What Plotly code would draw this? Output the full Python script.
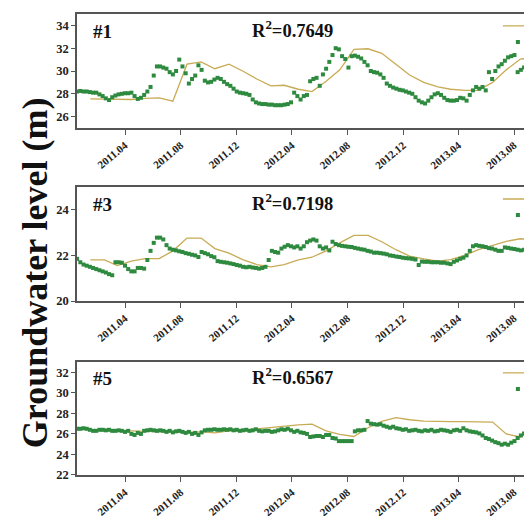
import pandas as pd
import plotly.graph_objects as go

# ---- data -------------------------------------------------------------
# weekly observed groundwater levels (m), starting 2010-12-17
obs_start = "2010-12-17"
obs_well1 = [
    28.2, 28.25, 28.2, 28.2, 28.15, 28.1, 28.1, 27.95, 27.8, 27.6,
    27.45, 27.7, 27.85, 27.95, 28.0, 28.05, 28.05, 28.1, 27.8, 27.55,
    27.65, 27.9, 28.2, 28.6, 29.6, 30.4, 30.4, 30.3, 30.2, 29.9,
    29.7, 30.0, 31.0, 30.4, 29.8, 28.9, 29.3, 29.6, 30.5, 30.1,
    29.15, 29.0, 29.05, 29.25, 29.4, 29.3, 29.05, 28.85, 28.7, 28.45,
    28.2, 28.1, 28.05, 28.0, 27.9, 27.5, 27.25, 27.15, 27.1, 27.1,
    27.05, 27.05, 27.0, 27.0, 27.0, 27.05, 27.1, 27.25, 28.1, 27.8,
    27.5, 27.8, 27.9, 29.1, 29.3, 29.4, 28.7, 29.7, 30.2, 30.8,
    31.4, 32.0, 31.9, 31.3, 31.05, 30.3, 31.3, 31.35, 31.25, 31.1,
    30.8, 30.5, 30.0, 29.9, 29.85, 29.7, 29.4, 28.9, 28.7, 28.55,
    28.45, 28.35, 28.3, 28.2, 28.1, 28.0, 27.7, 27.4, 27.25, 27.15,
    27.4, 27.7, 27.95, 28.05, 27.9, 27.65, 27.45, 27.4, 27.4, 27.45,
    27.65, 27.6, 27.4, 27.9, 28.3, 28.6, 28.45, 28.6, 28.3, 29.9,
    29.3, 30.0, 30.4, 30.6, 30.9, 31.2, 31.3, 31.4, 29.9, 30.1, 30.3,
]
obs_well3 = [
    21.85, 21.7, 21.6, 21.55, 21.5, 21.45, 21.4, 21.35, 21.3, 21.25,
    21.18, 21.13, 21.7, 21.7, 21.68, 21.55, 21.4, 21.3, 21.3, 21.45,
    21.45, 21.42, 21.8, 22.2, 22.55, 22.78, 22.78, 22.7, 22.45, 22.3,
    22.25, 22.22, 22.18, 22.15, 22.1, 22.07, 22.03, 22.0, 21.93, 22.15,
    22.1, 22.05, 21.97, 21.92, 21.75, 21.72, 21.7, 21.68, 21.65, 21.62,
    21.58, 21.55, 21.5, 21.48, 21.5, 21.47, 21.45, 21.42, 21.45, 21.5,
    21.8, 22.2, 22.15, 22.12, 22.3, 22.38, 22.45, 22.4, 22.35, 22.4,
    22.3, 22.4, 22.58, 22.65, 22.7, 22.65, 22.4, 22.3, 22.35, 22.22,
    22.6, 22.5, 22.45, 22.42, 22.4, 22.38, 22.37, 22.33, 22.3, 22.27,
    22.25, 22.2, 22.17, 22.12, 22.12, 22.1, 22.08, 22.05, 22.0, 21.98,
    21.95, 21.93, 21.9, 21.88, 21.87, 21.85, 21.82, 21.58, 21.73, 21.72,
    21.72, 21.7, 21.7, 21.7, 21.68, 21.68, 21.65, 21.62, 21.72, 21.78,
    21.85, 21.9, 22.0, 22.2, 22.4, 22.45, 22.42, 22.4, 22.37, 22.32,
    22.3, 22.25, 22.2, 22.2, 22.35, 22.33, 22.3, 22.28, 22.25, 22.22, 22.25,
]
obs_well5 = [
    26.5, 26.5, 26.55, 26.5, 26.4, 26.3, 26.3, 26.4, 26.4, 26.35,
    26.4, 26.3, 26.3, 26.35, 26.3, 26.2, 26.3, 26.0, 25.9, 26.1,
    26.0, 26.3, 26.35, 26.4, 26.35, 26.3, 26.35, 26.3, 26.2, 26.3,
    26.15, 26.25, 26.3, 26.2, 26.1, 26.2, 26.0, 26.1, 25.9, 26.15,
    26.35, 26.4, 26.4, 26.45, 26.4, 26.4, 26.45, 26.4, 26.45, 26.35,
    26.4, 26.3, 26.35, 26.4, 26.3, 26.35, 26.45, 26.3, 26.25, 26.3,
    26.3, 26.2, 26.25, 26.35, 26.45, 26.4, 26.5, 26.35, 26.2, 26.3,
    26.15, 26.1, 26.0, 25.7, 25.75, 25.8, 25.8, 25.7, 25.9, 25.9,
    25.6, 25.55, 25.3, 25.3, 25.3, 25.3, 25.3, 26.25, 26.35, 26.35,
    26.4, 27.25, 27.0, 26.95, 26.9, 26.95, 26.8, 26.7, 26.6, 26.7,
    26.55, 26.5, 26.4, 26.45, 26.3, 26.35, 26.4, 26.3, 26.25, 26.35,
    26.3, 26.4, 26.25, 26.3, 26.4, 26.35, 26.3, 26.2, 26.35, 26.4,
    26.3, 26.55, 26.35, 26.25, 26.2, 26.15, 26.05, 25.85, 25.6, 25.5,
    25.35, 25.2, 25.1, 24.95, 25.05, 24.95, 25.15, 25.3, 25.6, 25.85, 26.05,
]

# monthly simulated levels (m), mid-month output starting 2010-12-15
sim_start = "2010-12-15"
sim_well1 = [
    27.55, 27.55, 27.5, 27.5, 27.6, 27.65, 27.35, 30.6, 30.8, 30.2,
    30.6, 30.0, 29.3, 28.7, 28.75, 28.4, 28.2, 29.1, 30.1, 31.9,
    31.95, 31.55, 30.6, 29.65, 29.0, 28.6, 28.4, 28.3, 28.3, 29.0,
    30.1, 31.05, 31.15, 31.1,
]
sim_well3 = [
    21.8, 21.8, 21.55, 21.75, 21.86, 21.86, 22.2, 22.76, 22.76, 22.3,
    22.1, 21.82, 21.6, 21.5, 21.6, 21.8, 21.92, 22.2, 22.55, 22.88,
    22.88, 22.6, 22.25, 21.97, 21.85, 21.75, 21.82, 22.0, 22.25, 22.45,
    22.62, 22.73, 22.68, 22.65,
]
sim_well5 = [
    26.35, 26.35, 26.3, 26.3, 26.25, 26.2, 26.2, 26.15, 26.2, 26.1,
    26.3, 26.35, 26.5, 26.65, 26.8, 26.88, 26.95, 26.3, 25.95, 25.75,
    26.6, 27.22, 27.58, 27.38, 27.25, 27.2, 27.2, 27.2, 27.2, 27.15,
    26.0, 25.7, 26.6, 27.0,
]

well_labels = ["#1", "#3", "#5"]
r2_values = ["0.7649", "0.7198", "0.6567"]
y_ranges = [[25, 35], [20, 25], [22, 33]]
y_ticks = [[26, 28, 30, 32, 34], [20, 22, 24], [22, 24, 26, 28, 30, 32]]
tick_labels = ["2011.04", "2011.08", "2011.12", "2012.04",
               "2012.08", "2012.12", "2013.04", "2013.08"]
x_range = ["2010-12-16 18:00", "2013-08-22 22:00"]

# ---- styling ----------------------------------------------------------
SERIF = "Liberation Serif"
GREEN = "#2e8a3e"
GOLD = "#c8ab55"
FRAME = "#555555"
domains = [[0.7527, 1.0], [0.3774, 0.6247], [0.0, 0.2451]]
label_y = [0.846, 0.849, 0.85]
r2_y = [0.872, 0.872, 0.872]
legend_y = [(1.0055, 0.9708), (0.6302, 0.5955), (0.2528, 0.2180)]

obs_x = pd.date_range(obs_start, periods=len(obs_well1), freq="7D")
sim_x = pd.date_range(sim_start, periods=len(sim_well1), freq="MS") + pd.Timedelta(days=14)
tick_vals = [pd.to_datetime(t, format="%Y.%m") for t in tick_labels]

fig = go.Figure()
obs_sets = [obs_well1, obs_well3, obs_well5]
sim_sets = [sim_well1, sim_well3, sim_well5]

for k in range(3):
    sfx = "" if k == 0 else str(k + 1)
    xa, ya = "x" + sfx, "y" + sfx
    leg_line = "legend" if k == 0 else f"legend{2 * k + 1}"
    leg_mark = f"legend{2 * k + 2}"
    fig.add_trace(go.Scatter(
        x=sim_x, y=sim_sets[k], mode="lines", name="Simulated",
        line=dict(color=GOLD, width=1.3), xaxis=xa, yaxis=ya, legend=leg_line))
    fig.add_trace(go.Scatter(
        x=obs_x, y=obs_sets[k], mode="markers", name="Observed",
        marker=dict(color=GREEN, size=4, symbol="square", line=dict(width=0)),
        xaxis=xa, yaxis=ya, legend=leg_mark))

    axis_common = dict(showline=True, linecolor=FRAME, linewidth=1.5,
                       ticks="outside", tickcolor=FRAME, tickwidth=1.2,
                       showgrid=False, zeroline=False)
    fig.layout["xaxis" + sfx] = dict(
        axis_common, domain=[0, 1], anchor=ya, type="date", range=x_range,
        mirror=True, ticklen=5, tickvals=tick_vals, ticktext=tick_labels,
        tickangle=-40,
        tickfont=dict(family=SERIF, size=11, color="#222", weight="bold"))
    fig.layout["yaxis" + sfx] = dict(
        axis_common, domain=domains[k], anchor=xa, range=y_ranges[k],
        tickvals=y_ticks[k], ticklen=4,
        tickfont=dict(family=SERIF, size=12.5, color="#222", weight="bold"))

    fig.add_annotation(
        text=well_labels[k], xref=xa + " domain", yref=ya + " domain",
        x=0.031, y=label_y[k], xanchor="left", yanchor="middle", showarrow=False,
        font=dict(family=SERIF, size=19, color="#111", weight="bold"))
    fig.add_annotation(
        text=f"R<sup>2</sup>=0.{r2_values[k][2:]}", xref=xa + " domain",
        yref=ya + " domain", x=0.386, y=r2_y[k], xanchor="left",
        yanchor="middle", showarrow=False,
        font=dict(family=SERIF, size=18.5, color="#111", weight="bold"))

    for name, yy in zip([leg_line, leg_mark], legend_y[k]):
        fig.layout[name] = dict(
            x=0.9416, y=yy, xanchor="left", yanchor="top",
            bgcolor="rgba(0,0,0,0)", borderwidth=0,
            font=dict(family=SERIF, size=12, color="#111", weight="bold"))

fig.add_annotation(
    text="Groundwater level (m)", xref="paper", yref="paper",
    x=-0.094, y=0.44, textangle=-90, xanchor="center", yanchor="middle",
    showarrow=False, font=dict(family=SERIF, size=36, color="#111", weight="bold"))

fig.update_layout(
    width=524, height=516,
    margin=dict(l=77, r=0, t=14, b=41, autoexpand=False),
    paper_bgcolor="white", plot_bgcolor="white",
    showlegend=True,
)

fig.write_html("out.html")
